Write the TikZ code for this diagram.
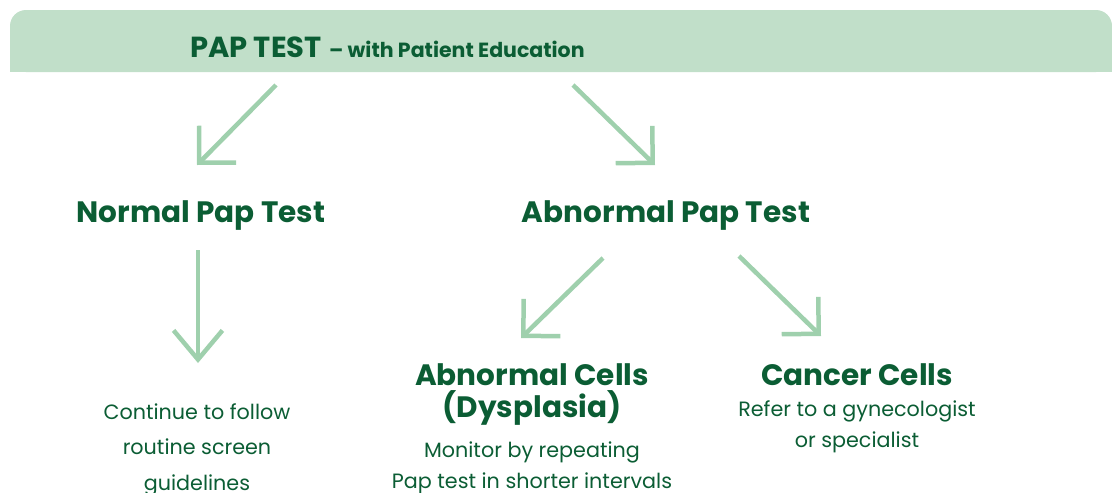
\documentclass[tikz,border=0pt]{standalone}
\usepackage{fontspec}
\setmainfont{Poppins}
\usetikzlibrary{arrows.meta}
\definecolor{barfill}{HTML}{C1DFC9}
\definecolor{ink}{HTML}{0B5D34}
\definecolor{arrowgreen}{HTML}{9FD0AD}
\tikzset{
  every node/.style={inner sep=0pt, text=ink},
  heading/.style={font=\bfseries\fontsize{29.5}{32}\selectfont, align=center, anchor=base},
  body/.style={font=\fontsize{20.7}{35.5}\selectfont, align=center, anchor=base},
  flow/.style={draw=arrowgreen, line width=4.5pt,
    -{Straight Barb[angle=90:37pt 0, line cap=butt, line join=miter]}},
}
\begin{document}
\begin{tikzpicture}[x=1pt,y=-1pt]
\useasboundingbox (0,0) rectangle (1112,493);
% header banner with rounded top corners
\fill[barfill, rounded corners=16pt] (10,10) rectangle (1112,72);
\fill[barfill] (10,45) rectangle (1112,72);
\node[anchor=base west, font=\bfseries\fontsize{29}{32}\selectfont] (title) at (190,57) {PAP TEST};
\node[anchor=base west, font=\bfseries\fontsize{20.5}{24}\selectfont] (subtitle) at ([xshift=7pt]title.base east) {– with Patient Education};
% results (anchor base = baseline of the last line)
\node[heading] (normal) at (201,222) {Normal Pap Test};
\node[heading] (abnormal) at (666,222) {Abnormal Pap Test};
\node[heading] (cells) at (532,417) {Abnormal Cells\\(Dysplasia)};
\node[heading] (cancer) at (857,385) {Cancer Cells};
% follow-up advice
\node[body] (continue) at (197,490) {Continue to follow\\routine screen\\guidelines};
\node[body, font=\fontsize{20.7}{30.5}\selectfont] (monitor) at (532,488) {Monitor by repeating\\Pap test in shorter intervals};
\node[body, font=\fontsize{20.7}{30.5}\selectfont] (refer) at (857,447) {Refer to a gynecologist\\or specialist};
% arrow end points
\coordinate (a1s) at (276,85);  \coordinate (a1e) at (197,165);
\coordinate (a2s) at (573,85);  \coordinate (a2e) at (655,165);
\coordinate (a3s) at (198,250); \coordinate (a3e) at (198,363);
\coordinate (a4s) at (603,258); \coordinate (a4e) at (521,338);
\coordinate (a5s) at (739,256); \coordinate (a5e) at (821,336);
\draw[flow] (a1s) -- (a1e);
\draw[flow] (a2s) -- (a2e);
\draw[flow, -{Straight Barb[angle=80:38pt 0, line cap=butt, line join=miter]}] (a3s) -- (a3e);
\draw[flow] (a4s) -- (a4e);
\draw[flow] (a5s) -- (a5e);
\end{tikzpicture}
\end{document}
